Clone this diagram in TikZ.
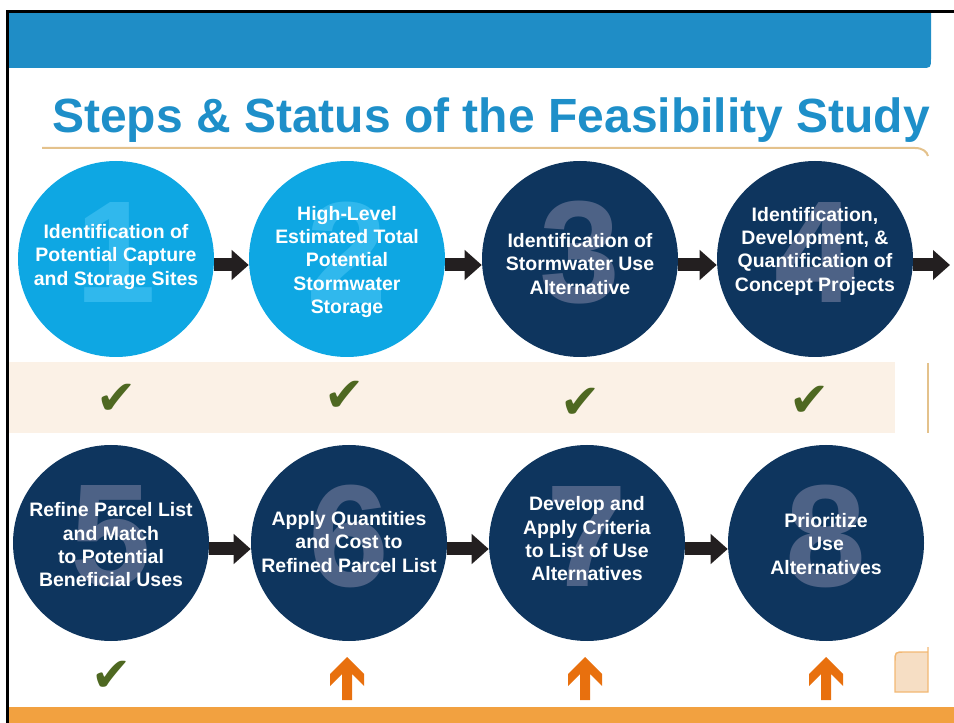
\documentclass[tikz,border=0pt]{standalone}
\usepackage{fontspec}
\setmainfont{Liberation Sans}
\newfontfamily\checkfont{DejaVu Sans}
\usetikzlibrary{arrows.meta}

\definecolor{bannerblue}{RGB}{31,141,198}
\definecolor{titleblue}{RGB}{30,143,201}
\definecolor{ruletan}{RGB}{228,194,140}
\definecolor{skyfill}{RGB}{14,167,227}
\definecolor{skynum}{RGB}{48,184,237}
\definecolor{navyfill}{RGB}{14,53,94}
\definecolor{navynum}{RGB}{77,98,134}
\definecolor{flowgray}{RGB}{35,31,32}
\definecolor{bandtan}{RGB}{251,241,230}
\definecolor{checkgreen}{RGB}{78,104,33}
\definecolor{todoorange}{RGB}{232,112,14}
\definecolor{bandorange}{RGB}{242,161,64}
\definecolor{boxpeach}{RGB}{246,222,196}
\definecolor{boxedge}{RGB}{242,184,116}

\tikzset{
  stage/.style={circle, fill=#1, minimum size=147pt, inner sep=0pt},
  bignum/.style={text=#1, font=\fontsize{109}{109}\selectfont\bfseries, inner sep=0pt, yshift=5pt},
  caption/.style={text=white, align=center, inner sep=0pt, font=\fontsize{14.6}{17.5}\selectfont\bfseries},
  flow/.style={draw=flowgray, line width=9.75pt, -{Triangle[length=12.75pt,width=21.75pt]}},
  done/.style={text=checkgreen, inner sep=0pt, font=\checkfont\fontsize{36}{36}\selectfont},
  todo/.style={fill=todoorange},
  rule/.style={draw=ruletan, line width=1.5pt}
}

\begin{document}
\begin{tikzpicture}[x=0.75pt,y=-0.75pt]
    \useasboundingbox (0,0) rectangle (954,723);
    \fill[bannerblue] (7,13) -- (931,13) -- (931,58) .. controls (931,68) .. (921,68) -- (7,68) -- cycle; % top banner
    \node[text=titleblue, anchor=base west, inner sep=0pt, font=\fontsize{36}{40}\selectfont\bfseries] (title) at (52,133) {Steps \& Status of the Feasibility Study};
    \draw[rule] (42,148) -- (915,148) .. controls (923,148) and (927,152) .. (928,156); % rule under title
    \fill[bandtan] (9,362) rectangle (895,433); % status band
    \draw[rule] (928,363) -- (928,433);
    \fill[bandorange] (9,707) rectangle (954,723); % bottom band
    \draw[line width=2.25pt] (7,723) -- (7,12) -- (954,12); % frame

    % first row
    \node[stage=skyfill, label={[bignum=skynum]center:1}] (c1) at (116,259) {};
    \node[stage=skyfill, label={[bignum=skynum]center:2}] (c2) at (347,259) {};
    \node[stage=navyfill, label={[bignum=navynum]center:3}] (c3) at (580,259) {};
    \node[stage=navyfill, label={[bignum=navynum]center:4}] (c4) at (815,259) {};
    \node[caption] (t1) at (116,257) {Identification of\\Potential Capture\\and Storage Sites};
    \node[caption] (t2) at (347,262) {High-Level\\Estimated Total\\Potential\\Stormwater\\Storage};
    \node[caption] (t3) at (580,264) {Identification of\\Stormwater Use\\Alternative};
    \node[caption] (t4) at (815,251) {Identification,\\Development, \&\\Quantification of\\Concept Projects};
    \coordinate (out4) at (950,265);
    \draw[flow] ([yshift=-4.5pt]c1.east) -- ([yshift=-4.5pt]c2.west);
    \draw[flow] ([yshift=-4.5pt]c2.east) -- ([yshift=-4.5pt]c3.west);
    \draw[flow] ([yshift=-4.5pt]c3.east) -- ([yshift=-4.5pt]c4.west);
    \draw[flow] ([yshift=-4.5pt]c4.east) -- (out4);

    % second row
    \node[stage=navyfill, label={[bignum=navynum]center:5}] (c5) at (111,543) {};
    \node[stage=navyfill, label={[bignum=navynum]center:6}] (c6) at (349,543) {};
    \node[stage=navyfill, label={[bignum=navynum]center:7}] (c7) at (587,543) {};
    \node[stage=navyfill, label={[bignum=navynum]center:8}] (c8) at (826,543) {};
    \node[caption] (t5) at (111,545) {Refine Parcel List\\and Match\\to Potential\\Beneficial Uses};
    \node[caption] (t6) at (349,542) {Apply Quantities\\and Cost to\\Refined Parcel List};
    \node[caption] (t7) at (587,539) {Develop and\\Apply Criteria\\to List of Use\\Alternatives};
    \node[caption] (t8) at (826,544) {Prioritize\\Use\\Alternatives};
    \draw[flow] ([yshift=-4.5pt]c5.east) -- ([yshift=-4.5pt]c6.west);
    \draw[flow] ([yshift=-4.5pt]c6.east) -- ([yshift=-4.5pt]c7.west);
    \draw[flow] ([yshift=-4.5pt]c7.east) -- ([yshift=-4.5pt]c8.west);

    % status marks
    \node[done] (s1) at (117,399) {✔};
    \node[done] (s2) at (345,396) {✔};
    \node[done] (s3) at (581,403) {✔};
    \node[done] (s4) at (810,401) {✔};
    \node[done] (s5) at (112,676) {✔};
    \fill[todo] (347,657) -- ++(17,17) -- ++(0,12) -- ++(-12,-12) -- ++(0,26) -- ++(-10,0) -- ++(0,-26) -- ++(-12,12) -- ++(0,-12) -- cycle; % step 6 pending
    \fill[todo] (585,657) -- ++(17,17) -- ++(0,12) -- ++(-12,-12) -- ++(0,26) -- ++(-10,0) -- ++(0,-26) -- ++(-12,12) -- ++(0,-12) -- cycle; % step 7 pending
    \fill[todo] (826,657) -- ++(17,17) -- ++(0,12) -- ++(-12,-12) -- ++(0,26) -- ++(-10,0) -- ++(0,-26) -- ++(-12,12) -- ++(0,-12) -- cycle; % step 8 pending
    \filldraw[fill=boxpeach, draw=boxedge, line width=1.1pt] (928,647) -- (928,692) -- (895,692) -- (895,662) .. controls (895,652) .. (905,652) -- (928,652); % corner box
\end{tikzpicture}
\end{document}
